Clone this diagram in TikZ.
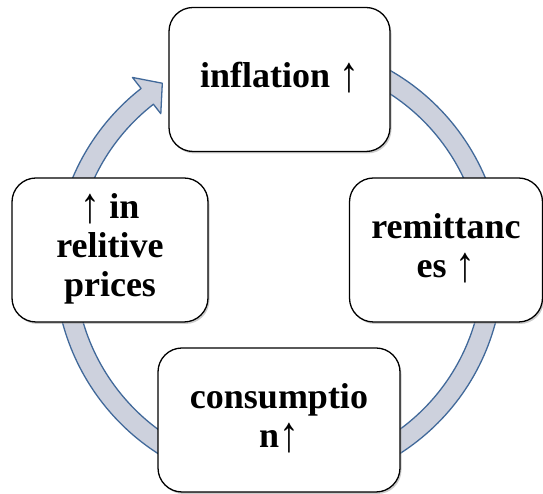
\documentclass[tikz,border=0pt]{standalone}
\usepackage{fontspec}
\usepackage{graphicx}
\setmainfont{Liberation Serif}
\usetikzlibrary{shadows}

\begin{document}
\begin{tikzpicture}[x=1pt,y=1pt]
      \definecolor{bandfill}{HTML}{CDD1DD}
      \definecolor{bandline}{HTML}{41699A}
      \definecolor{shadowgray}{HTML}{9A9A9A}

      \newcommand{\ringinner}[0]{204}
      \newcommand{\ringouter}[0]{224}
      \newcommand{\cyclelabel}[1]{\begin{tabular}{c}#1\end{tabular}}
      \newcommand{\risemark}[0]{\raisebox{-4pt}{\scalebox{1.1}[1.4]{\mdseries ↑}}}

      \tikzstyle{block} = [rectangle, rounded corners=24pt, draw=black, line width=1.3pt, fill=white, minimum height=144pt, inner sep=0pt, font=\bfseries\fontsize{36}{39}\selectfont, drop shadow={shadow xshift=1.5pt, shadow yshift=-2pt, fill=shadowgray, opacity=0.5}]
      \tikzstyle{band}  = [fill=bandfill, draw=bandline, line width=1.3pt, line join=round]

      \useasboundingbox (0,0) rectangle (543,494);

      \coordinate (hub) at (279,229);

      \draw [band, shift={(hub)}] (75:\ringouter) arc [start angle=75, end angle=-232, radius=\ringouter]
        -- (128:238) -- (122.7:216) -- (128:192) -- (128:\ringinner)
        arc [start angle=-232, end angle=75, radius=\ringinner] -- cycle;

      \node [block, minimum width=221pt] (inflation)   at (279.5,414.5) {\cyclelabel{inflation \risemark}};
      \node [block, minimum width=193pt] (remittances) at (446,244)     {\cyclelabel{remittanc\\es \risemark}};
      \node [block, minimum width=242pt] (consumption) at (279,74)      {\cyclelabel{consumptio\\n\risemark}};
      \node [block, minimum width=196pt] (prices)      at (110,244)     {\cyclelabel{\risemark{} in\\relitive\\prices}};
    \end{tikzpicture}
\end{document}
